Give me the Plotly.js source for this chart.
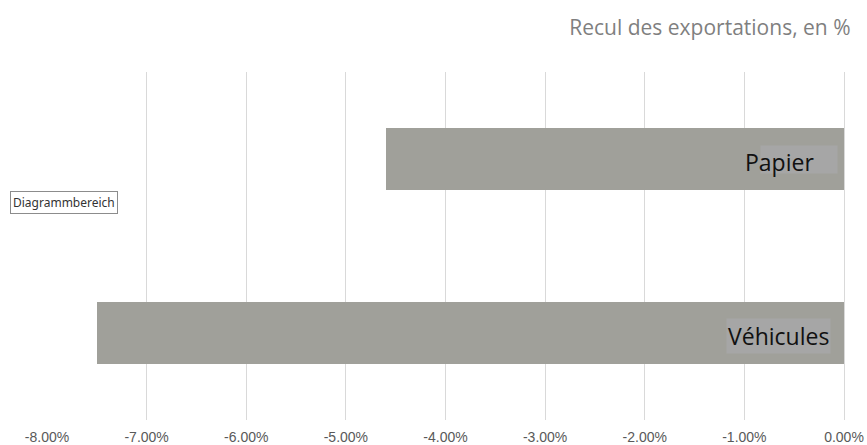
<!DOCTYPE html>
<html>
<head>
<meta charset="utf-8">
<script src="https://cdn.plot.ly/plotly-3.0.1.min.js"></script>
<style>html,body{margin:0;padding:0;background:#fff;}#chart{width:867px;height:445px;}</style>
</head>
<body>
<div id="chart"></div>
<script>
// Data
const categories = ["Véhicules", "Papier"];
const values = [-7.50, -4.60];
const tickValues = [-8, -7, -6, -5, -4, -3, -2, -1, 0];
const tickLabels = ["-8.00%", "-7.00%", "-6.00%", "-5.00%", "-4.00%", "-3.00%", "-2.00%", "-1.00%", "0.00%"];
const titleText = "Recul des exportations, en %";
const tooltipText = "Diagrammbereich";

const trace = {
  type: "bar",
  orientation: "h",
  x: values,
  y: categories,
  width: 0.356,
  marker: {color: "#a0a09a", line: {width: 0}},
  hoverinfo: "none"
};

const labelFont = {family: "Open Sans, Noto Sans, sans-serif", size: 23, color: "#111"};

const annotations = [
  // lighter box behind "Papier"
  {xref: "x", yref: "y", x: 0, y: categories[1], xanchor: "right", yanchor: "middle",
   xshift: -6, yshift: 0, text: "&nbsp;", showarrow: false,
   bgcolor: "#a6a6a6", width: 76, height: 27, borderpad: 0, font: {size: 18}},
  {xref: "x", yref: "y", x: 0, y: categories[1], xanchor: "right", yanchor: "middle",
   xshift: -28, yshift: -3, text: categories[1], showarrow: false,
   font: labelFont},
  // "Véhicules" with its box
  {xref: "x", yref: "y", x: 0, y: categories[0], xanchor: "right", yanchor: "middle",
   xshift: -13, yshift: -3, text: categories[0], showarrow: false,
   bgcolor: "#a6a6a6", borderpad: 1,
   font: labelFont},
  // tooltip "Diagrammbereich"
  {xref: "paper", yref: "paper", x: 0, y: 0.625, xanchor: "left", yanchor: "middle",
   xshift: -37, text: tooltipText, showarrow: false,
   bgcolor: "#ffffff", bordercolor: "#8c8c8c", borderwidth: 1, borderpad: 2,
   font: {family: "Noto Sans, Open Sans, sans-serif", size: 12, color: "#333"}}
];

const layout = {
  width: 867,
  height: 445,
  margin: {l: 47, r: 23, t: 72, b: 25},
  paper_bgcolor: "#ffffff",
  plot_bgcolor: "#ffffff",
  showlegend: false,
  bargap: 0,
  title: {
    text: titleText,
    xref: "container", yref: "container",
    x: 0.981, xanchor: "right",
    y: 0.937, yanchor: "middle",
    font: {family: "Open Sans, Noto Sans, sans-serif", size: 21, color: "#7f7f7f"}
  },
  xaxis: {
    range: [-8, 0],
    tickmode: "array",
    tickvals: tickValues,
    ticktext: tickLabels,
    showgrid: true,
    gridcolor: "#d9d9d9",
    gridwidth: 1,
    zeroline: true,
    zerolinecolor: "#d9d9d9",
    zerolinewidth: 1,
    showline: false,
    ticks: "",
    ticklabelstandoff: 7,
    tickfont: {family: "Liberation Sans, Arial, sans-serif", size: 14, color: "#595959"},
    fixedrange: true
  },
  yaxis: {
    type: "category",
    categoryorder: "array",
    categoryarray: categories,
    range: [-0.5, 1.5],
    showticklabels: false,
    showgrid: false,
    zeroline: false,
    showline: false,
    ticks: "",
    fixedrange: true
  },
  annotations: annotations
};

Plotly.newPlot("chart", [trace], layout, {displayModeBar: false, staticPlot: true});
</script>
</body>
</html>
